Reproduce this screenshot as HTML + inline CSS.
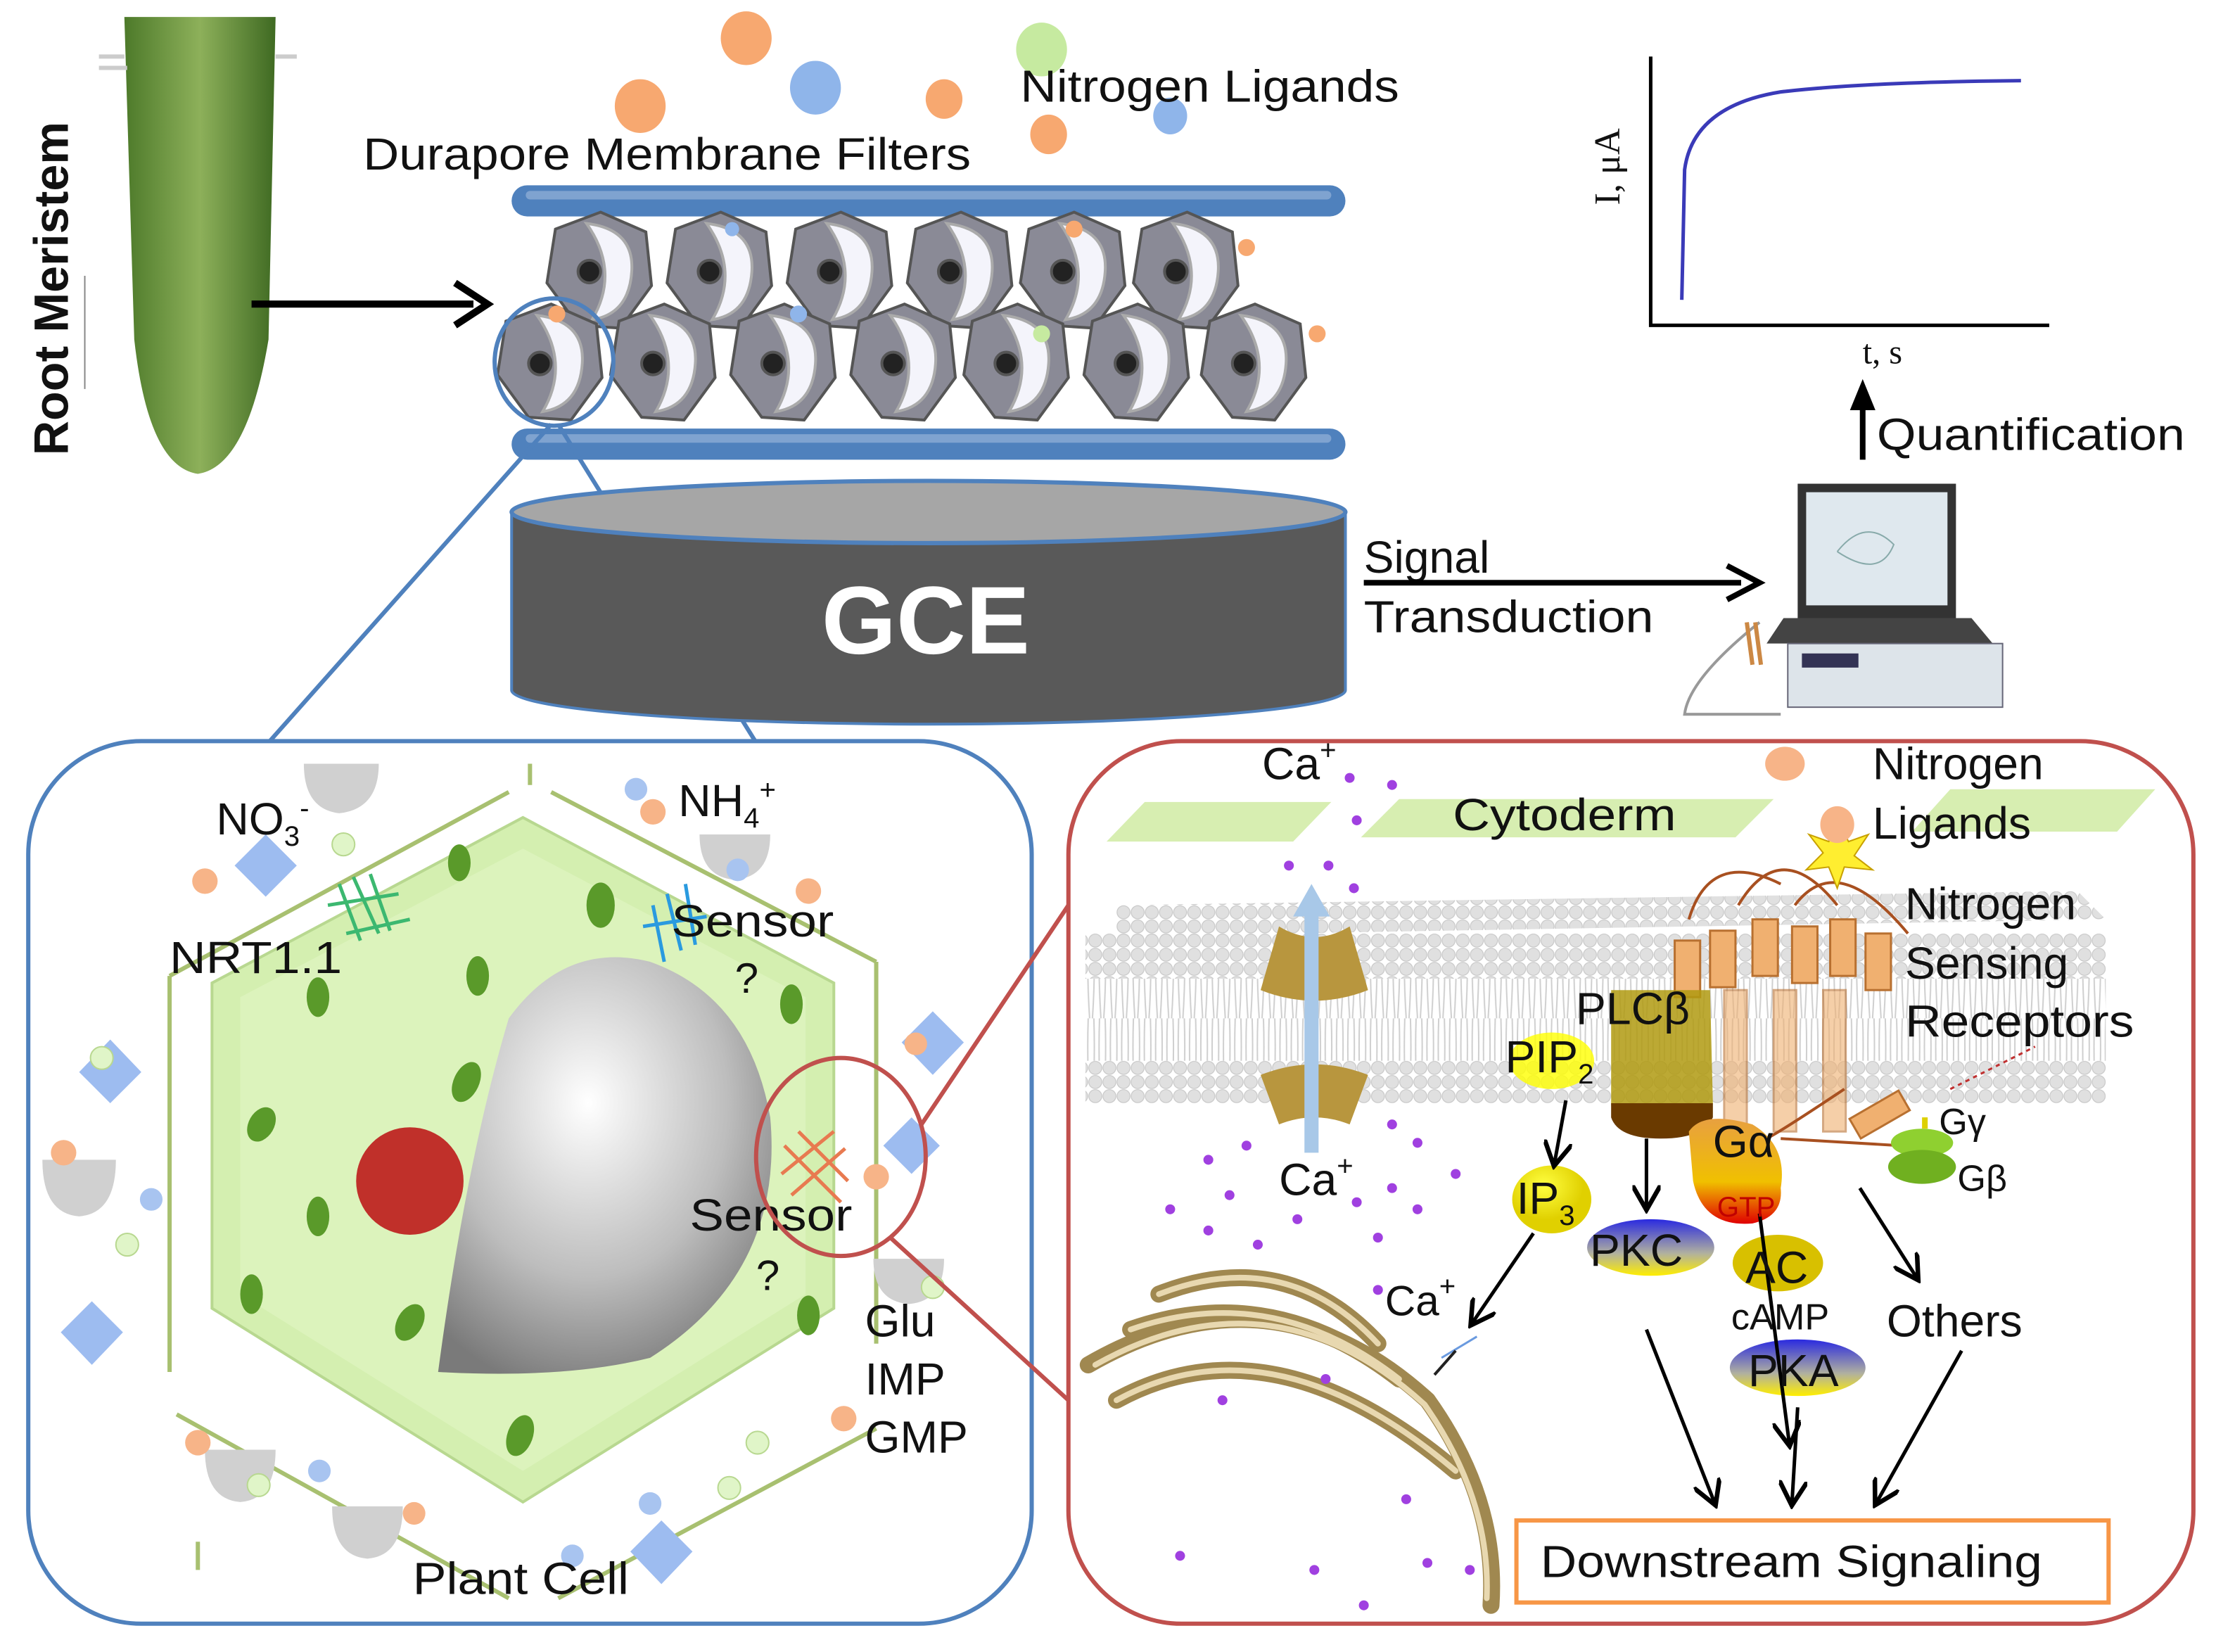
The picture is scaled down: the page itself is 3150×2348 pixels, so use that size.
<!DOCTYPE html>
<html><head><meta charset="utf-8"><style>
html,body{margin:0;padding:0;background:#fff;}
svg{display:block;}
text{font-family:"Liberation Sans",sans-serif;fill:#111;}
</style></head><body>
<svg width="3150" height="2348" viewBox="0 0 1568 1168" preserveAspectRatio="none" xmlns="http://www.w3.org/2000/svg">
<defs>
<linearGradient id="root" x1="0" x2="1"><stop offset="0" stop-color="#4d7a2a"/><stop offset="0.5" stop-color="#8db05a"/><stop offset="1" stop-color="#3f6a22"/></linearGradient>
<radialGradient id="vac" cx="0.45" cy="0.35" r="0.7"><stop offset="0" stop-color="#ffffff"/><stop offset="0.6" stop-color="#bdbdbd"/><stop offset="1" stop-color="#7a7a7a"/></radialGradient>
<radialGradient id="ylw" cx="0.4" cy="0.3"><stop offset="0" stop-color="#ffff40"/><stop offset="1" stop-color="#e0d000"/></radialGradient>
<linearGradient id="pk" x1="0" y1="0" x2="0" y2="1"><stop offset="0" stop-color="#2a2ae0"/><stop offset="0.6" stop-color="#b0b0a0"/><stop offset="1" stop-color="#ffee00"/></linearGradient>
<linearGradient id="ga" x1="0" y1="0" x2="0" y2="1"><stop offset="0" stop-color="#e8a040"/><stop offset="0.6" stop-color="#f0c000"/><stop offset="1" stop-color="#e00000"/></linearGradient>
<pattern id="heads" width="10" height="10" patternUnits="userSpaceOnUse"><circle cx="5" cy="5" r="4.6" fill="#e0e0e0" stroke="#c8c8c8" stroke-width="0.6"/></pattern>
<pattern id="tails" width="8" height="60" patternUnits="userSpaceOnUse"><path d="M2 0 Q1 30 3 60 M6 0 Q7 30 5 60" stroke="#cfcfcf" fill="none" stroke-width="1"/></pattern>
<marker id="ah" markerWidth="8" markerHeight="8" refX="6" refY="4" orient="auto" markerUnits="strokeWidth"><path d="M0,0 L7,4 L0,8" fill="none" stroke="#000" stroke-width="1.3"/></marker>
<g id="c"><path d="M-32 -30 L0 -42 L32 -28 L36 10 L14 40 L-16 38 L-38 8 Z" fill="#8a8a96"/><path d="M-10 -34 Q24 -30 22 0 Q20 30 -6 34 Q14 0 -10 -34 Z" fill="#f4f4fb" stroke="#aaa"/><circle cx="-8" cy="0" r="8" fill="#222"/></g>
</defs>

<!-- Root -->
<path d="M88 12 L195 12 L190 240 Q175 330 140 335 Q105 330 95 240 Z" fill="url(#root)"/>
<path d="M70 40 L88 40 M70 48 L90 48 M195 40 L210 40" stroke="#ccc" stroke-width="3"/>
<line x1="60" y1="195" x2="60" y2="275" stroke="#888" stroke-width="1"/>
<text transform="translate(48,322) rotate(-90)" font-size="34" font-weight="bold" textLength="236" lengthAdjust="spacingAndGlyphs">Root  Meristem</text>
<line x1="178" y1="215" x2="335" y2="215" stroke="#000" stroke-width="5"/>
<path d="M322 200 L345 215 L322 230" fill="none" stroke="#000" stroke-width="5"/>

<!-- Ligand balls top -->
<ellipse cx="528" cy="27" rx="18" ry="19" fill="#f7a870"/>
<ellipse cx="453" cy="75" rx="18" ry="19" fill="#f7a870"/>
<ellipse cx="668" cy="70" rx="13" ry="14" fill="#f7a870"/>
<ellipse cx="742" cy="95" rx="13" ry="14" fill="#f7a870"/>
<ellipse cx="577" cy="62" rx="18" ry="19" fill="#8fb5ea"/>
<ellipse cx="828" cy="82" rx="12" ry="13" fill="#8fb5ea"/>
<ellipse cx="737" cy="35" rx="18" ry="19" fill="#c6eaa0"/>
<text x="722" y="72" font-size="32" textLength="268" lengthAdjust="spacingAndGlyphs">Nitrogen Ligands</text>
<text x="257" y="120" font-size="32" textLength="430" lengthAdjust="spacingAndGlyphs">Durapore Membrane Filters</text>

<!-- filters -->
<rect x="362" y="131" width="590" height="22" rx="11" fill="#4f81bd"/>
<rect x="372" y="135" width="570" height="6" rx="3" fill="#7fa3d0"/>
<rect x="362" y="303" width="590" height="22" rx="11" fill="#4f81bd"/>
<rect x="372" y="307" width="570" height="6" rx="3" fill="#7fa3d0"/>

<!-- cells -->
<g stroke="#555" stroke-width="2">
<use href="#c" x="425" y="192"/><use href="#c" x="510" y="192"/><use href="#c" x="595" y="192"/><use href="#c" x="680" y="192"/><use href="#c" x="760" y="192"/><use href="#c" x="840" y="192"/>
<use href="#c" x="390" y="257"/><use href="#c" x="470" y="257"/><use href="#c" x="555" y="257"/><use href="#c" x="640" y="257"/><use href="#c" x="720" y="257"/><use href="#c" x="805" y="257"/><use href="#c" x="888" y="257"/>
</g>
<circle cx="518" cy="162" r="5" fill="#8fb5ea"/><circle cx="760" cy="162" r="6" fill="#f7a870"/><circle cx="882" cy="175" r="6" fill="#f7a870"/>
<circle cx="394" cy="222" r="6" fill="#f7a870"/><circle cx="565" cy="222" r="6" fill="#8fb5ea"/><circle cx="737" cy="236" r="6" fill="#c6eaa0"/><circle cx="932" cy="236" r="6" fill="#f7a870"/>
<ellipse cx="392" cy="256" rx="42" ry="45" fill="none" stroke="#4f81bd" stroke-width="3"/>
<line x1="390" y1="300" x2="190" y2="525" stroke="#4f81bd" stroke-width="3"/>
<line x1="395" y1="300" x2="535" y2="525" stroke="#4f81bd" stroke-width="3"/>

<!-- GCE -->
<path d="M362 362 L362 488 A295 24 0 0 0 952 488 L952 362 Z" fill="#595959" stroke="#4f81bd" stroke-width="2"/>
<ellipse cx="657" cy="362" rx="295" ry="22" fill="#a6a6a6" stroke="#4f81bd" stroke-width="3"/>
<text x="655" y="462" font-size="68" font-weight="bold" text-anchor="middle" style="fill:#fff">GCE</text>

<text x="965" y="405" font-size="32">Signal</text>
<text x="965" y="447" font-size="32" textLength="205" lengthAdjust="spacingAndGlyphs">Transduction</text>
<line x1="965" y1="412" x2="1232" y2="412" stroke="#000" stroke-width="4"/>
<path d="M1222 400 L1245 412 L1222 424" fill="none" stroke="#000" stroke-width="4"/>

<!-- instrument -->
<rect x="1272" y="342" width="112" height="95" fill="#333"/>
<rect x="1278" y="348" width="100" height="80" fill="#dfe8ee"/>
<path d="M1300 390 Q1320 365 1340 385 Q1330 410 1300 390" fill="none" stroke="#8aa" />
<path d="M1262 437 L1395 437 L1410 455 L1250 455 Z" fill="#444"/>
<rect x="1265" y="455" width="152" height="45" fill="#dde4ea" stroke="#667" />
<rect x="1275" y="462" width="40" height="10" fill="#335"/>
<path d="M1245 440 Q1195 480 1192 505 L1260 505" fill="none" stroke="#999" stroke-width="2"/>
<path d="M1236 440 L1240 470 M1242 440 L1246 470" stroke="#c84" stroke-width="3"/>

<!-- graph -->
<path d="M1168 40 L1168 230 L1450 230" fill="none" stroke="#000" stroke-width="2.5"/>
<path d="M1190 212 L1192 120 Q1198 75 1260 65 Q1320 58 1430 57" fill="none" stroke="#3a3ab8" stroke-width="2.5"/>
<text transform="translate(1146,145) rotate(-90)" font-size="26" style="font-family:'Liberation Serif',serif">I, μA</text>
<text x="1318" y="257" font-size="24" style="font-family:'Liberation Serif',serif">t, s</text>
<line x1="1318" y1="325" x2="1318" y2="278" stroke="#000" stroke-width="4"/>
<path d="M1309 290 L1318 268 L1327 290" fill="#000"/>
<text x="1328" y="318" font-size="32" textLength="218" lengthAdjust="spacingAndGlyphs">Quantification</text>

<!-- LEFT PANEL -->
<rect x="20" y="524" width="710" height="624" rx="80" fill="#fff" stroke="#4f81bd" stroke-width="3"/>
<g stroke="#a8c070" stroke-width="3" fill="none">
<path d="M120 690 L120 970 M375 540 L375 555 M120 690 L360 560 M390 560 L620 680 M620 680 L620 950 M125 1000 L360 1130 M395 1130 L620 1010 M140 1090 L140 1110"/>
</g>
<path d="M370 578 L590 695 L590 925 L370 1062 L150 925 L150 695 Z" fill="#d4efb0" stroke="#b8d890" stroke-width="2"/>
<path d="M370 600 L570 705 L570 915 L370 1040 L170 915 L170 705 Z" fill="#dcf3bc"/>
<g fill="#5a9a2a">
<ellipse cx="425" cy="640" rx="10" ry="16"/><ellipse cx="225" cy="705" rx="8" ry="14"/><ellipse cx="338" cy="690" rx="8" ry="14"/><ellipse cx="560" cy="710" rx="8" ry="14"/>
<ellipse cx="330" cy="765" rx="9" ry="15" transform="rotate(25 330 765)"/><ellipse cx="185" cy="795" rx="9" ry="13" transform="rotate(30 185 795)"/><ellipse cx="225" cy="860" rx="8" ry="14"/><ellipse cx="325" cy="610" rx="8" ry="13"/>
<ellipse cx="178" cy="915" rx="8" ry="14"/><ellipse cx="290" cy="935" rx="9" ry="14" transform="rotate(30 290 935)"/><ellipse cx="572" cy="930" rx="8" ry="14"/><ellipse cx="368" cy="1015" rx="9" ry="15" transform="rotate(20 368 1015)"/>
</g>
<circle cx="290" cy="835" r="38" fill="#c0302a"/>
<path d="M310 970 Q330 820 360 720 Q400 665 460 680 Q530 705 545 790 Q555 900 460 960 Q400 975 310 970 Z" fill="url(#vac)"/>
<g fill="#d0d0d0">
<path d="M215 540 L268 540 Q268 572 240 575 Q215 572 215 540 Z"/><path d="M495 590 L545 590 Q545 620 520 622 Q495 620 495 590Z"/>
<path d="M30 820 L82 820 Q82 858 56 860 Q30 858 30 820Z"/><path d="M145 1025 L195 1025 Q195 1060 170 1062 Q145 1060 145 1025Z"/>
<path d="M235 1065 L285 1065 Q285 1100 260 1102 Q235 1100 235 1065Z"/><path d="M618 890 L668 890 Q668 920 643 922 Q618 920 618 890Z"/>
</g>
<g fill="#9dbcf0">
<path d="M188 590 L210 612 L188 634 L166 612Z"/><path d="M78 735 L100 758 L78 780 L56 758Z"/><path d="M65 920 L87 942 L65 965 L43 942Z"/><path d="M660 715 L682 737 L660 760 L638 737Z"/><path d="M645 790 L665 810 L645 830 L625 810Z"/><path d="M468 1075 L490 1097 L468 1120 L446 1097Z"/>
</g>
<g fill="#f7b488"><circle cx="145" cy="623" r="9"/><circle cx="462" cy="574" r="9"/><circle cx="572" cy="630" r="9"/><circle cx="45" cy="815" r="9"/><circle cx="648" cy="738" r="8"/><circle cx="620" cy="832" r="9"/><circle cx="597" cy="1003" r="9"/><circle cx="140" cy="1020" r="9"/><circle cx="293" cy="1070" r="8"/></g>
<g fill="#a8c4f0"><circle cx="450" cy="558" r="8"/><circle cx="522" cy="615" r="8"/><circle cx="107" cy="848" r="8"/><circle cx="226" cy="1040" r="8"/><circle cx="460" cy="1063" r="8"/><circle cx="405" cy="1100" r="8"/></g>
<g fill="#e0f5c8" stroke="#b8d890"><circle cx="243" cy="597" r="8"/><circle cx="72" cy="748" r="8"/><circle cx="90" cy="880" r="8"/><circle cx="660" cy="910" r="8"/><circle cx="536" cy="1020" r="8"/><circle cx="516" cy="1052" r="8"/><circle cx="183" cy="1050" r="8"/></g>
<g stroke="#3cb870" stroke-width="2.5" fill="none"><path d="M240 625 L255 665 M250 620 L268 660 M262 618 L276 658 M232 640 L282 632 M245 660 L290 650"/></g>
<g stroke="#2a9adf" stroke-width="2.5" fill="none"><path d="M462 640 L470 680 M472 632 L482 672 M485 625 L492 668 M455 655 L500 648"/></g>
<g stroke="#e87a50" stroke-width="2.5" fill="none"><path d="M555 810 L595 850 M565 800 L600 835 M553 830 L590 800 M560 845 L598 812"/></g>
<text x="153" y="590" font-size="32">NO<tspan font-size="20" dy="8">3</tspan><tspan font-size="20" dy="-20">-</tspan></text>
<text x="480" y="577" font-size="32">NH<tspan font-size="20" dy="8">4</tspan><tspan font-size="20" dy="-20">+</tspan></text>
<text x="120" y="688" font-size="32" textLength="122" lengthAdjust="spacingAndGlyphs">NRT1.1</text>
<text x="475" y="662" font-size="32" textLength="115" lengthAdjust="spacingAndGlyphs">Sensor</text>
<text x="520" y="702" font-size="30">?</text>
<text x="488" y="870" font-size="32" textLength="115" lengthAdjust="spacingAndGlyphs">Sensor</text>
<text x="535" y="912" font-size="30">?</text>
<text x="612" y="945" font-size="32">Glu</text>
<text x="612" y="986" font-size="32">IMP</text>
<text x="612" y="1027" font-size="32">GMP</text>
<text x="292" y="1127" font-size="32" textLength="153" lengthAdjust="spacingAndGlyphs">Plant Cell</text>
<ellipse cx="595" cy="818" rx="60" ry="70" fill="none" stroke="#c0504d" stroke-width="3"/>
<line x1="652" y1="795" x2="756" y2="640" stroke="#c0504d" stroke-width="3"/>
<line x1="630" y1="875" x2="756" y2="990" stroke="#c0504d" stroke-width="3"/>

<!-- RIGHT PANEL -->
<rect x="756" y="524" width="796" height="624" rx="80" fill="#fff" stroke="#c0504d" stroke-width="3"/>
<g fill="#d7eeb1"><path d="M810 567 L942 567 L915 595 L783 595Z"/><path d="M990 565 L1255 565 L1228 592 L963 592Z"/><path d="M1380 558 L1525 558 L1498 588 L1353 588Z"/></g>
<path d="M790 640 L1470 630 L1490 650 L790 662 Z" fill="url(#heads)"/>
<rect x="768" y="660" width="722" height="32" fill="url(#heads)"/>
<rect x="768" y="692" width="722" height="58" fill="url(#tails)"/>
<rect x="768" y="750" width="722" height="30" fill="url(#heads)"/>
<path d="M905 655 Q930 670 955 655 L968 700 Q930 715 892 700 Z" fill="#b8963e"/>
<path d="M892 760 Q930 745 968 760 L955 795 Q930 785 905 795 Z" fill="#b8963e"/>
<line x1="928" y1="815" x2="928" y2="640" stroke="#a8c8e8" stroke-width="10"/>
<path d="M915 648 L928 625 L941 648Z" fill="#a8c8e8"/>
<g fill="#f0b070" stroke="#b87030" stroke-width="1.5">
<rect x="1185" y="665" width="18" height="40"/><rect x="1210" y="658" width="18" height="40"/><rect x="1240" y="650" width="18" height="40"/><rect x="1268" y="655" width="18" height="40"/><rect x="1295" y="650" width="18" height="40"/><rect x="1320" y="660" width="18" height="40"/>
<rect x="1220" y="700" width="16" height="100" opacity="0.6"/><rect x="1255" y="700" width="16" height="100" opacity="0.6"/><rect x="1290" y="700" width="16" height="100" opacity="0.6"/>
<rect x="1310" y="780" width="40" height="16" transform="rotate(-30 1330 788)"/>
</g>
<path d="M1195 650 Q1210 600 1260 625 M1230 640 Q1260 590 1300 640 M1270 640 Q1300 600 1350 660 M1305 770 Q1260 800 1250 805" stroke="#a85020" stroke-width="2" fill="none"/>
<path d="M1380 770 Q1420 750 1440 740" stroke="#c03030" stroke-width="1.5" stroke-dasharray="3 3" fill="none"/>
<path d="M1300 580 L1308 595 L1322 590 L1312 605 L1325 615 L1305 613 L1300 628 L1294 613 L1278 615 L1290 603 L1280 590 L1294 595Z" fill="#ffee30" stroke="#c8a000"/>
<ellipse cx="1300" cy="583" rx="12" ry="13" fill="#f7b488"/><ellipse cx="1263" cy="540" rx="14" ry="12" fill="#f7b488"/>
<path d="M1140 700 L1210 700 L1212 780 Q1210 802 1175 802 Q1140 802 1140 780Z" fill="#b09a10" opacity="0.85"/>
<path d="M1140 780 L1212 780 L1212 790 Q1205 805 1175 805 Q1145 805 1140 790Z" fill="#6a3a00"/>
<ellipse cx="1098" cy="750" rx="30" ry="20" fill="#ffff00" opacity="0.8"/>
<path d="M1195 800 Q1205 785 1240 795 Q1265 810 1260 840 Q1262 860 1240 865 Q1205 868 1198 835 Z" fill="url(#ga)"/>
<line x1="1260" y1="805" x2="1345" y2="810" stroke="#a85020" stroke-width="2"/>
<ellipse cx="1360" cy="808" rx="22" ry="10" fill="#8fd030"/><ellipse cx="1360" cy="825" rx="24" ry="12" fill="#70b020"/><path d="M1362 790 L1362 798" stroke="#ddd000" stroke-width="4"/>
<ellipse cx="1098" cy="848" rx="28" ry="24" fill="url(#ylw)"/>
<ellipse cx="1168" cy="882" rx="45" ry="20" fill="url(#pk)"/>
<ellipse cx="1258" cy="893" rx="32" ry="20" fill="#d8c000"/>
<ellipse cx="1272" cy="967" rx="48" ry="20" fill="url(#pk)"/>
<g stroke="#000" stroke-width="2.5" fill="none" marker-end="url(#ah)">
<line x1="1108" y1="778" x2="1100" y2="822"/><line x1="1165" y1="805" x2="1165" y2="853"/><line x1="1085" y1="872" x2="1042" y2="935"/>
<line x1="1316" y1="840" x2="1356" y2="903"/><line x1="1165" y1="940" x2="1213" y2="1062"/><line x1="1272" y1="995" x2="1268" y2="1062"/>
<line x1="1388" y1="955" x2="1328" y2="1062"/><line x1="1245" y1="858" x2="1266" y2="1020"/>
</g>
<g fill="none" stroke="#a08850" stroke-width="12" stroke-linecap="round">
<path d="M770 965 Q900 890 1010 990 Q1060 1060 1055 1135"/>
<path d="M800 940 Q900 905 990 975"/><path d="M820 915 Q910 880 975 950"/><path d="M790 990 Q900 930 1030 1040"/>
</g>
<g fill="none" stroke="#e8d8b0" stroke-width="4" stroke-linecap="round">
<path d="M775 965 Q900 895 1008 993 Q1055 1060 1052 1130"/><path d="M800 940 Q900 905 990 975"/><path d="M820 915 Q910 880 975 950"/><path d="M790 990 Q900 930 1030 1040"/>
</g>
<path d="M1020 960 L1045 945" stroke="#6a9adf" stroke-width="1.5"/><path d="M1015 972 L1030 955" stroke="#222" stroke-width="2"/>
<g fill="#a040e0">
<circle cx="955" cy="550" r="3.5"/><circle cx="985" cy="555" r="3.5"/><circle cx="960" cy="580" r="3.5"/><circle cx="912" cy="612" r="3.5"/><circle cx="940" cy="612" r="3.5"/><circle cx="958" cy="628" r="3.5"/>
<circle cx="855" cy="820" r="3.5"/><circle cx="882" cy="810" r="3.5"/><circle cx="985" cy="795" r="3.5"/><circle cx="1003" cy="808" r="3.5"/><circle cx="985" cy="840" r="3.5"/><circle cx="1003" cy="855" r="3.5"/><circle cx="1030" cy="830" r="3.5"/>
<circle cx="828" cy="855" r="3.5"/><circle cx="870" cy="845" r="3.5"/><circle cx="890" cy="880" r="3.5"/><circle cx="918" cy="862" r="3.5"/><circle cx="960" cy="850" r="3.5"/><circle cx="975" cy="875" r="3.5"/><circle cx="855" cy="870" r="3.5"/>
<circle cx="975" cy="912" r="3.5"/><circle cx="938" cy="975" r="3.5"/><circle cx="865" cy="990" r="3.5"/><circle cx="995" cy="1060" r="3.5"/><circle cx="930" cy="1110" r="3.5"/><circle cx="965" cy="1135" r="3.5"/><circle cx="835" cy="1100" r="3.5"/><circle cx="1010" cy="1105" r="3.5"/><circle cx="1040" cy="1110" r="3.5"/>
</g>
<text x="893" y="551" font-size="32">Ca<tspan font-size="20" dy="-14">+</tspan></text>
<text x="1028" y="587" font-size="32" textLength="158" lengthAdjust="spacingAndGlyphs">Cytoderm</text>
<text x="1325" y="551" font-size="32">Nitrogen</text>
<text x="1325" y="593" font-size="32">Ligands</text>
<text x="1348" y="650" font-size="32">Nitrogen</text>
<text x="1348" y="692" font-size="32">Sensing</text>
<text x="1348" y="733" font-size="32" textLength="162" lengthAdjust="spacingAndGlyphs">Receptors</text>
<text x="1115" y="724" font-size="32">PLCβ</text>
<text x="1065" y="758" font-size="32">PIP<tspan font-size="20" dy="8">2</tspan></text>
<text x="1212" y="818" font-size="32">Gα</text>
<text x="1215" y="860" font-size="20" style="fill:#c00000">GTP</text>
<text x="1372" y="802" font-size="26">Gγ</text>
<text x="1385" y="842" font-size="26">Gβ</text>
<text x="905" y="845" font-size="32">Ca<tspan font-size="20" dy="-14">+</tspan></text>
<text x="1073" y="858" font-size="32">IP<tspan font-size="20" dy="8">3</tspan></text>
<text x="1125" y="895" font-size="32">PKC</text>
<text x="1235" y="907" font-size="32">AC</text>
<text x="980" y="930" font-size="30">Ca<tspan font-size="20" dy="-14">+</tspan></text>
<text x="1225" y="940" font-size="26">cAMP</text>
<text x="1335" y="945" font-size="32">Others</text>
<text x="1237" y="980" font-size="32">PKA</text>
<rect x="1073" y="1075" width="419" height="58" fill="#fff" stroke="#f79646" stroke-width="3"/>
<text x="1090" y="1115" font-size="32" textLength="355" lengthAdjust="spacingAndGlyphs">Downstream Signaling</text>
</svg>
</body></html>
